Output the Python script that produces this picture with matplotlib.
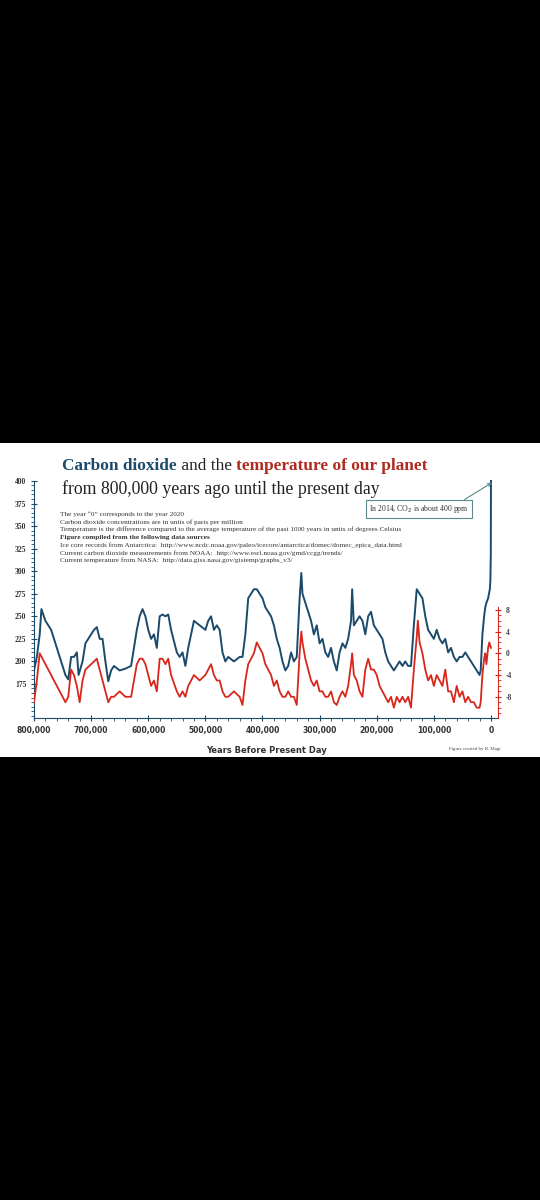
import matplotlib
matplotlib.use("Agg")
import matplotlib.pyplot as plt
from matplotlib.patches import Rectangle
from matplotlib.ticker import MultipleLocator, FuncFormatter, FixedLocator

plt.rcParams["axes.unicode_minus"] = False

co2_kyr = [800,795,790,787,780,770,760,750,745,740,735,730,725,722,715,710,700,695,690,685,680,675,670,665,660,650,640,630,620,615,610,605,600,595,590,585,580,575,570,565,560,550,545,540,535,530,520,510,500,495,490,485,480,475,470,465,460,450,440,435,430,425,420,415,410,405,400,395,390,385,380,375,370,365,360,355,350,345,340,335,332,330,325,320,315,310,305,300,295,290,285,280,275,270,265,260,255,250,245,243,240,235,230,225,220,215,210,205,200,195,190,185,180,175,170,165,160,155,150,145,140,135,130,125,120,115,110,105,100,95,90,85,80,75,70,65,60,55,50,45,40,35,30,25,20,18,15,12,10,8,5,2,1,0.3,0]
co2_ppm = [190,205,230,258,245,235,215,195,185,180,205,205,210,185,200,220,230,235,238,225,225,200,178,190,195,190,192,195,235,250,258,250,235,225,230,215,250,252,250,252,235,210,205,210,195,215,245,240,235,245,250,235,240,235,210,200,205,200,205,205,230,270,275,280,280,275,270,260,255,250,240,225,215,200,190,195,210,200,205,270,298,275,265,255,245,230,240,220,225,210,205,215,200,190,210,220,215,225,245,280,240,245,250,245,230,250,255,240,235,230,225,210,200,195,190,195,200,195,200,195,195,240,280,275,270,250,235,230,225,235,225,220,225,210,215,205,200,205,205,210,205,200,195,190,185,190,230,250,260,265,270,280,290,320,400]

temp_kyr = [800,795,790,785,780,770,760,750,745,740,735,730,725,720,715,710,700,690,685,680,675,670,665,660,650,640,630,620,615,610,605,600,595,590,585,580,575,570,565,560,550,545,540,535,530,520,510,500,495,490,485,480,475,470,465,460,450,440,435,430,425,420,415,410,405,400,395,390,385,380,375,370,365,360,355,350,345,340,335,332,330,325,320,315,310,305,300,295,290,285,280,275,270,265,260,255,250,245,243,240,235,230,225,220,215,210,205,200,195,190,185,180,175,170,165,160,155,150,145,140,135,130,128,125,120,115,110,105,100,95,90,85,80,75,70,65,60,55,50,45,40,35,30,25,20,18,15,12,10,8,5,3,0]
temp_c = [-9,-5,0,-1,-2,-4,-6,-8,-9,-8,-3,-4,-6,-9,-5,-3,-2,-1,-3,-5,-7,-9,-8,-8,-7,-8,-8,-2,-1,-1,-2,-4,-6,-5,-7,-1,-1,-2,-1,-4,-7,-8,-7,-8,-6,-4,-5,-4,-3,-2,-4,-5,-5,-7,-8,-8,-7,-8,-9.5,-5,-2,-1,0,2,1,0,-2,-3,-4,-6,-5,-7,-8,-8,-7,-8,-8,-9.5,0,4,2,-1,-3,-5,-6,-5,-7,-7,-8,-8,-7,-9,-9.5,-8,-7,-8,-6,-2,0,-4,-5,-7,-8,-3,-1,-3,-3,-4,-6,-7,-8,-9,-8,-10,-8,-9,-8,-9,-8,-10,-3,3,6,2,0,-3,-5,-4,-6,-4,-5,-6,-3,-7,-7,-9,-6,-8,-7,-9,-8,-9,-9,-10,-10,-9,-4,-1,0,-2,1,2,1]

BLUE = "#1b4a6b"
RED = "#d8261b"
W, H = 540, 1200
fig = plt.figure(figsize=(W/100, H/100), dpi=100, facecolor="black")
fig.patches.append(Rectangle((0, 1-757/H), 1, (757-443)/H, transform=fig.transFigure,
                             facecolor="white", edgecolor="none", zorder=-10))

def fx(px): return px / W
def fy(py): return 1 - py / H

ax = fig.add_axes([fx(34), fy(718), fx(498-34), (718-476)/H])
ax.set_facecolor("none")
ax.plot([k*1000 for k in co2_kyr], co2_ppm, color=BLUE, lw=1.4)
ax.set_xlim(800000, -12300)
ax.set_ylim(137.3, 405.5)
for s in ["top", "right"]:
    ax.spines[s].set_visible(False)
ax.spines["left"].set_bounds(137.3, 400)
ax.spines["left"].set_color(BLUE)
ax.spines["bottom"].set_color(BLUE)
ax.set_yticks(range(175, 401, 25))
ax.yaxis.set_minor_locator(FixedLocator(list(range(140, 401, 5))))
ax.set_xticks(range(0, 800001, 100000))
ax.xaxis.set_minor_locator(MultipleLocator(20000))
ax.xaxis.set_major_formatter(FuncFormatter(lambda v, p: f"{int(v):,}"))
ax.tick_params(axis="y", colors=BLUE, labelsize=5.5, length=4, direction="inout")
ax.tick_params(axis="y", which="minor", colors=BLUE, length=2)
ax.tick_params(axis="x", colors=BLUE, labelsize=5.5, length=4, direction="inout")
ax.tick_params(axis="x", which="minor", colors=BLUE, length=2)
for t in ax.get_xticklabels() + ax.get_yticklabels():
    t.set_fontweight("bold"); t.set_color("#333333")
for t in ax.get_yticklabels():
    t.set_fontfamily("Liberation Serif")
ax.set_xlabel("Years Before Present Day", fontsize=6, fontweight="bold", color="#333333", labelpad=8)

ax2 = ax.twinx()
ax2.plot([k*1000 for k in temp_kyr], temp_c, color=RED, lw=1.3)
ax2.set_ylim(-11.9, 32.6)
for s in ["top", "left", "bottom"]:
    ax2.spines[s].set_visible(False)
ax2.spines["right"].set_bounds(-11.9, 8.5)
ax2.spines["right"].set_color(RED)
ax2.set_yticks([-8, -4, 0, 4, 8])
ax2.yaxis.set_minor_locator(FixedLocator(list(range(-11, 9))))
ax2.tick_params(axis="y", colors=RED, labelsize=5.5, length=4, direction="inout")
ax2.tick_params(axis="y", which="minor", colors=RED, length=2)
for t in ax2.get_yticklabels():
    t.set_fontweight("bold"); t.set_color("#444444"); t.set_fontfamily("Liberation Serif")

# Title with mixed colours
fig.canvas.draw()
r = fig.canvas.get_renderer()
x = fx(62)
parts = [("Carbon dioxide", BLUE, "bold"), (" and the ", "#222222", "normal"),
         ("temperature of our planet", "#b02a20", "bold")]
for s, c, w in parts:
    t = fig.text(x, fy(470), s, color=c, fontweight=w, fontsize=12.4,
                 family="Liberation Serif", va="baseline")
    bb = t.get_window_extent(r)
    x += bb.width / W
fig.text(fx(62), fy(494), "from 800,000 years ago until the present day", color="#222222",
         fontsize=12.8, family="Liberation Serif", va="baseline")

lines = [
    ("The year \u201c0\u201d corresponds to the year 2020", "normal"),
    ("Carbon dioxide concentrations are in units of parts per million", "normal"),
    ("Temperature is the difference compared to the average temperature of the past 1000 years in units of degrees Celsius", "normal"),
    ("Figure compiled from the following data sources", "bold"),
    ("Ice core records from Antarctica:  http://www.ncdc.noaa.gov/paleo/icecore/antarctica/domec/domec_epica_data.html", "normal"),
    ("Current carbon dioxide measurements from NOAA:  http://www.esrl.noaa.gov/gmd/ccgg/trends/", "normal"),
    ("Current temperature from NASA:  http://data.giss.nasa.gov/gistemp/graphs_v3/", "normal"),
]
for i, (s, w) in enumerate(lines):
    fig.text(fx(60), fy(516 + i * 7.7), s, fontsize=5.2, fontweight=w, color="#333333",
             family="Liberation Serif", va="baseline")

ax.annotate("In 2014, CO$_2$ is about 400 ppm", xy=(-1500, 398), xycoords="data",
            xytext=(fx(419), fy(509)), textcoords="figure fraction",
            ha="center", va="center", fontsize=5.6, family="Liberation Serif", color="#333333",
            bbox=dict(boxstyle="square,pad=0.4", fc="white", ec="#5a8a8a", lw=0.8),
            arrowprops=dict(arrowstyle="->", color="#5a8a8a", lw=0.8,
                            shrinkA=0, shrinkB=0, relpos=(0.9, 1.0)))

fig.text(fx(475), fy(750), "Figure created by B. Magi", fontsize=3.5, color="#444444",
         family="Liberation Serif", ha="center")

fig.savefig("out.png", dpi=100, facecolor="black")
